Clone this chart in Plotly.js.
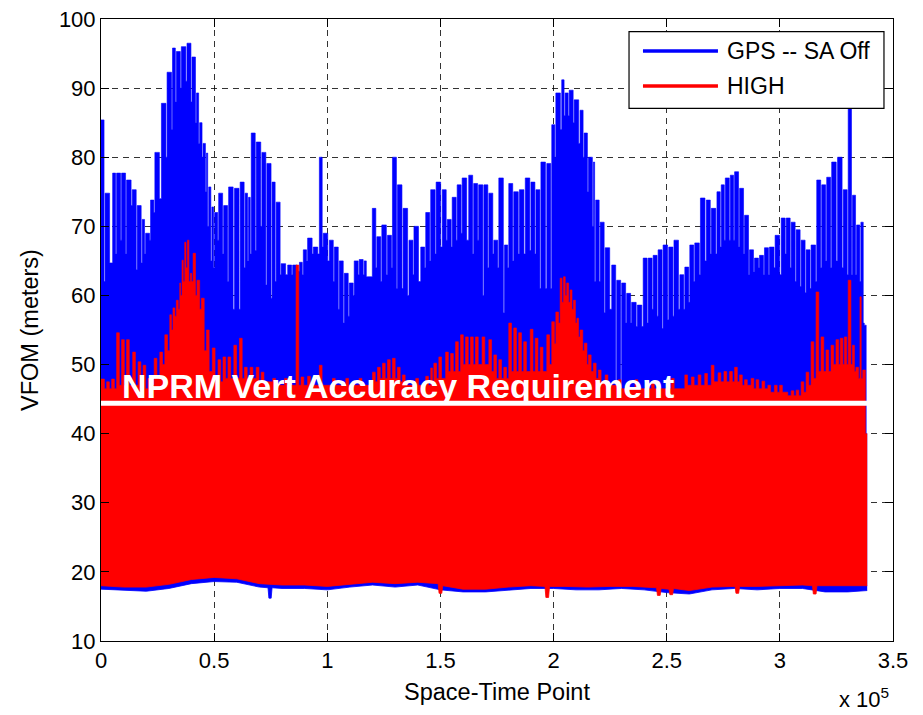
<!DOCTYPE html>
<html>
<head>
<meta charset="utf-8">
<script src="https://cdn.plot.ly/plotly-3.0.1.min.js"></script>
<style>html,body{margin:0;padding:0;background:#fff;}#chart{width:923px;height:715px;}</style>
</head>
<body>
<div id="chart"></div>
<script>
// ---- Data ----
// x tick labels (axis in units of 10^5)
const xTickVals = [0, 50000, 100000, 150000, 200000, 250000, 300000, 350000];
const xTickText = ['0', '0.5', '1', '1.5', '2', '2.5', '3', '3.5'];
const yTickVals = [10, 20, 30, 40, 50, 60, 70, 80, 90, 100];
const dataEnd = 338600;

// GPS -- SA Off: spike positions, spike tops, level between spikes
const blueX = [300,1800,5150,6900,9100,11300,13800,16000,18200,19700,
21900,23800,26700,29200,31600,33300,35500,38000,40200,42200,
43600,45100,46600,47600,49000,50200,52000,54200,56400,59000,
61500,63700,65200,66400,68600,71100,73300,75600,77400,79600,
82500,84700,87700,89400,91300,93800,96500,98200,100900,103100,
105300,107500,109700,111900,114100,116300,117700,119900,121900,124100,
126600,128800,131000,133500,136100,138300,141300,143500,145700,148100,
150800,153000,155200,157400,159600,162500,164700,166900,169200,171400,
173600,175800,178300,180200,182400,184900,187500,190000,192200,194400,
197000,199200,201000,203600,205100,206900,209100,211700,213500,215400,
217600,218600,220600,222800,225700,227900,230100,232300,234500,237000,
239600,241800,244000,246200,248400,250900,253200,255800,258000,260200,
262400,264900,267500,269700,272200,274100,275900,278100,280000,282200,
284400,286600,288800,291000,293200,295400,297900,300600,302800,305000,
307200,309400,311600,313800,316300,318500,320700,322900,325500,328000,
330200,332100,333900,335800,337300];
const bluePeak = [85.4,74.8,77.7,77.7,77.7,76.7,75.3,73,71,69,
73.8,80.7,87.8,92.3,95.8,95.3,96,96.5,94.5,89.3,
85,82,80.6,75.7,72.8,72,74.8,73,75.7,75.5,
76.4,74.8,74.2,83.5,82.2,80.7,79.1,76.4,73.5,64.6,
64.4,64.4,64.8,66.6,68.3,67,80,69,68,67,
65,63.2,61.8,65,65.2,65,62.7,72.6,68.5,70.2,
68.7,80,76,72.6,68,70,67,72,75.3,76.4,
75.3,71,74.2,76,77,77.4,76.2,76,76,74.8,
68,77,67.3,76.2,75,75.3,77,76.4,75.3,79.3,
79.1,84.7,89.3,91.2,89.3,89.7,88.3,86.8,83.5,80,
79.3,73.8,70.6,66.9,64.4,62.2,61.8,60.3,59,58.6,
65.4,65.4,65.8,66.6,67.3,67,68,63,64.1,67.3,
67.6,74.1,73.8,72.6,75,76,77,77.4,77.9,75.5,
71.6,66.6,65.4,65.8,66.9,67,68.7,71.2,71.2,70.6,
69.5,68,66.6,67.3,76.7,76,77.1,79.3,80,75.3,
87.8,74.5,70.2,70.6,55.7];
const blueGap = [62,64.7,66,68,66,73,63.7,64.7,66,68,
72,74,80,84,88,90,91,88,85,82,
80,75,70,65,64,68,66,62,58,58,
64,65,66,66.5,70,61.5,59.6,62,63,63,
63,63.5,63,65,66,66,67,65,62,58,
56,57,60,63,63,62.7,62.7,64,62,63,
64,61,61,60,63,62,64,65,66,67,
68,67,68,69,68,66,68,60,64,66,
64,57.5,64,65,66,66,66.5,66,61,61,
61,80,84,86,86,85,82,80,75,70,
62,62,57.5,58,42,42,56,56,55.5,55.5,
56,58,57,55.2,56.5,57,58,58,59,62,
63,65,66,66,67,68,68,68,67,66,
63,63.4,64,63,63,64,63,66,64,62,
61.3,60.4,61,62,64,65,64,65,64,63,
63,63,62,56,40];
const blueLowX = [0,10000,20000,30000,40000,50000,60000,70000,73800,74200,
75200,75600,80000,90000,100000,110000,120000,130000,140000,150000,
160000,170000,180000,190000,200000,210000,220000,230000,240000,250000,
260000,270000,280000,290000,300000,310000,320000,330000,338600];
const blueLow = [17.5,17.3,17.2,17.6,18.3,18.6,18.5,17.8,17.7,16.2,
16.2,17.7,17.6,17.6,17.4,17.8,18.1,17.8,18.1,17.4,
17.1,17.1,17.4,17.6,17.6,17.4,17.4,17.6,17.4,17.0,
16.8,17.4,17.6,17.4,17.6,17.6,17.1,17.1,17.3];

// HIGH
const redX = [300,2500,4700,6900,9100,11300,14000,16400,18600,20800,
23500,26000,28200,30400,31800,33300,34800,35800,37000,38200,
39500,40700,42400,44400,46600,49200,51700,53900,56100,58700,
61200,63400,65900,68600,70800,75900,81100,86200,88400,91300,
96500,102300,108200,114100,120000,122200,124400,126600,128800,131000,
133200,139100,143500,145700,147100,149300,152300,154500,156700,158900,
161100,163300,165500,168400,171400,173600,175800,178000,180200,182400,
184600,186800,189700,191900,194100,197000,199200,201000,202900,204400,
205800,207300,208800,210300,211700,213600,215400,217600,219800,222800,
228600,236000,243300,252100,258000,260900,263900,266800,269700,272700,
275300,277800,280000,282200,284400,287300,289500,292100,294700,297600,
299900,302300,305000,307200,309400,311600,313800,316000,318200,320400,
322600,324800,326700,328500,330200,332100,333600,335400,336600];
const redPeak = [47.9,47.5,47.9,54.6,53.6,53.6,51.8,50.4,49.9,48,
50.9,51.8,54.3,57.2,58.2,59.3,61.8,65.1,67.7,68,
63.2,66.1,62.2,59.6,55,52.4,50.7,51.1,51.1,52.8,
53.8,49.6,49.6,49.6,48.9,48,48,64.4,48.2,48.3,
49.9,48,48,48,48.9,49.6,50.2,50.7,50.9,49.6,
48.5,48,48.3,49.5,50.2,51.1,51.8,51.6,53.3,54.3,
54,54,54,54,53.6,51.4,50.7,49.6,56,55.3,
54.6,53.3,55.1,53.8,52.5,54.3,56.2,57.6,62.5,62.7,
61.8,60.8,59.3,56.7,55,53.1,51.4,50.2,49.2,48.5,
47.8,47.8,47.5,48,48.5,48.2,48.5,48.7,49.9,48.8,
49,49,49.6,48.5,47.8,48,47.8,47.6,47,47,
47,46,46.2,46.3,47.5,48.9,53.3,60.5,54,52.1,
52.8,53.6,53.8,54,62.2,52.8,49.6,59.8,49.2];
const redGap = [46.5,46.5,46.5,47,47,47,47,46.5,46.5,47,
48,50,52,55,57,58,60,62,64,62,
62,60,58,52,49,48,47.5,48,48,48,
48,48,48,47.5,47.5,47,47,47,47,47,
47,47,47,47,47.5,48,48,48,48,47.5,
47,47,47,47.5,48,48,49,49,49,50,
50,50,50,50,49,48,48,48,49,49,
49,49,49,49,49,50,53,56,59,60,
59,58,56,54,52,50,49,48,47.5,47,
46.5,46.5,46.5,46.5,47,47,47,47,47.5,47.5,
47.5,47.5,47.5,47,47,46.5,46.5,46.5,46,46,
46,45.5,45.5,45.5,46,47,48,49,49,49,
50,50,50,50,50,49,48,48,40];
const redLowX = [0,10000,20000,30000,40000,50000,60000,70000,80000,90000,
100000,110000,120000,130000,140000,149000,149400,150600,151000,160000,
170000,180000,190000,196200,196600,197800,198200,205000,215000,225000,
235000,245500,245900,247100,247500,251000,251400,252600,253000,260000,
270000,280200,280600,281800,282200,290000,300000,310000,314400,314800,
316000,316400,322000,330000,338600];
const redLow = [18.0,17.8,17.8,18.2,18.9,19.2,19.0,18.3,18.1,18.1,
17.9,18.2,18.5,18.3,18.5,18.3,16.9,16.9,18.0,17.5,
17.5,17.8,18.0,17.9,16.3,16.3,17.9,17.9,17.8,17.9,
17.9,17.7,16.6,16.6,17.6,17.5,16.7,16.7,17.6,17.3,
17.8,17.9,16.9,16.9,17.9,17.9,18.0,18.1,18.0,16.8,
16.8,18.0,18.0,18.0,18.0];

const requirementLevel = 44.4;
const requirementLabel = 'NPRM Vert Accuracy Requirement';
const seriesNames = ['GPS -- SA Off', 'HIGH'];
const blue = '#0000ff', red = '#ff0000';

// Build a step outline: each spike holds its top, then drops to the level between spikes
function outline(xs, tops, gaps, maxW, notch, end) {
  const X = [], Y = [];
  for (let i = 0; i < xs.length; i++) {
    const next = i + 1 < xs.length ? xs[i + 1] : end;
    const xe = Math.min(xs[i] + maxW, next - notch);
    X.push(i === 0 ? 0 : xs[i]); Y.push(tops[i]);
    X.push(xe); Y.push(gaps[i]);
  }
  X.push(end); Y.push(gaps[gaps.length - 1]);
  return {X, Y};
}
const bTop = outline(blueX, bluePeak, blueGap, 2000, 450, dataEnd);
const rTop = outline(redX, redPeak, redGap, 1200, 650, dataEnd);

const traces = [
  {x: blueLowX, y: blueLow, mode: 'lines', line: {color: blue, width: 0.8}, showlegend: false, hoverinfo: 'skip'},
  {x: bTop.X, y: bTop.Y, name: seriesNames[0], mode: 'lines', line: {color: blue, width: 0.6, shape: 'hv'},
   fill: 'tonexty', fillcolor: blue, showlegend: false},
  {x: redLowX, y: redLow, mode: 'lines', line: {color: red, width: 0.8}, showlegend: false, hoverinfo: 'skip'},
  {x: rTop.X, y: rTop.Y, name: seriesNames[1], mode: 'lines', line: {color: red, width: 0.6, shape: 'hv'},
   fill: 'tonexty', fillcolor: red, showlegend: false}
];

const F = 'Liberation Sans, Arial, Helvetica, sans-serif';
const axisCommon = {
  showgrid: true, gridcolor: 'rgba(0,0,0,0.8)', gridwidth: 1, griddash: '6px,5px',
  ticks: 'inside', ticklen: 8, tickcolor: '#000', tickwidth: 1,
  showline: true, linecolor: '#000', linewidth: 1, mirror: 'ticks',
  zeroline: false, tickfont: {family: F, size: 22, color: '#000'}
};

// legend box position (paper coordinates)
const lg = {x0: 0.6667, x1: 0.9886, y0: 0.8564, y1: 0.9796, lx0: 0.6843, lx1: 0.7790, tx: 0.7879, ry: [0.9486, 0.8923]};

const layout = {
  width: 923, height: 715,
  margin: {l: 101, r: 30, t: 19, b: 74},
  paper_bgcolor: '#fff', plot_bgcolor: '#fff',
  showlegend: false,
  xaxis: Object.assign({}, axisCommon, {
    range: [0, 350000], tickvals: xTickVals, ticktext: xTickText,
    title: {text: 'Space-Time Point', font: {family: F, size: 23.5, color: '#000'}, standoff: 11}
  }),
  yaxis: Object.assign({}, axisCommon, {
    range: [10, 100], tickvals: yTickVals,
    title: {text: 'VFOM (meters)', font: {family: F, size: 23.5, color: '#000'}, standoff: 13}
  }),
  shapes: [
    {type: 'line', xref: 'x', yref: 'y', x0: 0, x1: dataEnd, y0: requirementLevel, y1: requirementLevel,
     line: {color: '#fff', width: 5}, layer: 'above'},
    {type: 'rect', xref: 'paper', yref: 'paper', x0: lg.x0, x1: lg.x1, y0: lg.y0, y1: lg.y1,
     line: {color: '#000', width: 1.2}, fillcolor: '#fff', layer: 'above'},
    {type: 'line', xref: 'paper', yref: 'paper', x0: lg.lx0, x1: lg.lx1, y0: lg.ry[0], y1: lg.ry[0],
     line: {color: blue, width: 3.5}, layer: 'above'},
    {type: 'line', xref: 'paper', yref: 'paper', x0: lg.lx0, x1: lg.lx1, y0: lg.ry[1], y1: lg.ry[1],
     line: {color: red, width: 3.5}, layer: 'above'}
  ],
  annotations: [
    {xref: 'x', yref: 'y', x: 8400, y: 46.9, xanchor: 'left', yanchor: 'middle', showarrow: false,
     text: requirementLabel, font: {family: F, size: 34, color: '#fff', weight: 'bold'}},
    {xref: 'paper', yref: 'paper', x: lg.tx, y: lg.ry[0], xanchor: 'left', yanchor: 'middle', showarrow: false,
     text: seriesNames[0], font: {family: F, size: 23, color: '#000'}},
    {xref: 'paper', yref: 'paper', x: lg.tx, y: lg.ry[1], xanchor: 'left', yanchor: 'middle', showarrow: false,
     text: seriesNames[1], font: {family: F, size: 23, color: '#000'}},
    {xref: 'paper', yref: 'paper', x: 0.998, y: -0.117, xanchor: 'right', yanchor: 'bottom', showarrow: false,
     text: 'x 10<sup>5</sup>', font: {family: F, size: 22, color: '#000'}}
  ]
};

Plotly.newPlot('chart', traces, layout, {staticPlot: true, displayModeBar: false});
</script>
</body>
</html>
